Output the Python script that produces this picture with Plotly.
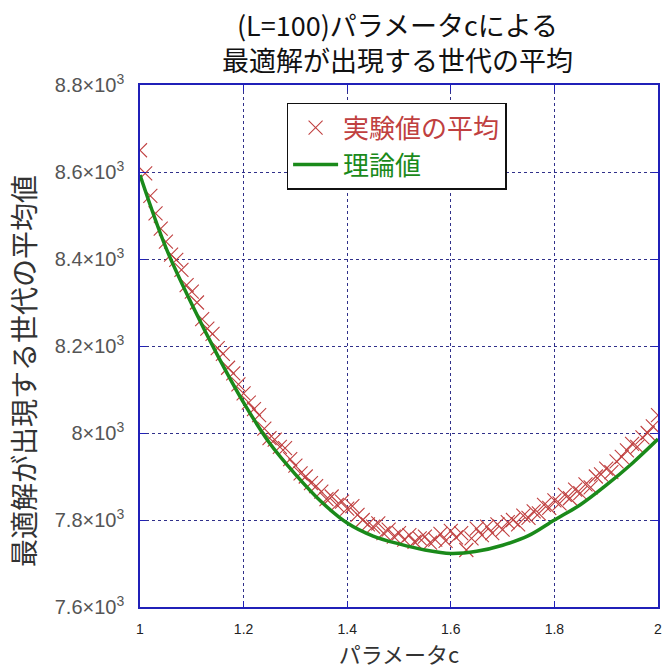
import plotly.graph_objects as go

# Parameter c values for the averaged experiments (step 0.01)
c_exp = [round(1 + i * 0.01, 2) for i in range(101)]
# Average generation at which the optimum appeared
gen_exp = [
    8650, 8597, 8545, 8505, 8470, 8440, 8410, 8398, 8375, 8340,
    8325, 8300, 8262, 8240, 8228, 8195, 8182, 8150, 8137, 8112,
    8091, 8070, 8055, 8041, 8010, 7988, 7985, 7968, 7965, 7940,
    7925, 7907, 7900, 7885, 7878, 7865, 7848, 7854, 7835, 7842,
    7826, 7832, 7812, 7800, 7790, 7785, 7792, 7770, 7778, 7762,
    7770, 7755, 7765, 7750, 7758, 7762, 7748, 7755, 7768, 7752,
    7775, 7760, 7770, 7731, 7758, 7780, 7765, 7785, 7770, 7790,
    7778, 7795, 7800, 7790, 7810, 7805, 7820, 7815, 7835, 7828,
    7845, 7838, 7858, 7850, 7870, 7862, 7882, 7875, 7900, 7905,
    7918, 7910, 7935, 7945, 7960, 7975, 7968, 7990, 8000, 8015,
    8041,
]

# Theoretical curve
c_theory = [1.00, 1.05, 1.10, 1.15, 1.20, 1.25, 1.30, 1.35, 1.40, 1.45, 1.50,
            1.55, 1.60, 1.65, 1.70, 1.75, 1.80, 1.85, 1.90, 1.95, 2.00]
gen_theory = [8593, 8426, 8296, 8178, 8070, 7977, 7905, 7842, 7793, 7763, 7745,
              7731, 7723, 7728, 7742, 7764, 7800, 7835, 7880, 7930, 7986]

# Axis ticks
x_ticks = [1, 1.2, 1.4, 1.6, 1.8, 2]
x_ticktext = ["1", "1.2", "1.4", "1.6", "1.8", "2"]
y_ticks = [7600, 7800, 8000, 8200, 8400, 8600, 8800]
y_ticktext = ["7.6×10<sup>3</sup>", "7.8×10<sup>3</sup>", "8×10<sup>3</sup>",
              "8.2×10<sup>3</sup>", "8.4×10<sup>3</sup>", "8.6×10<sup>3</sup>",
              "8.8×10<sup>3</sup>"]

title_text = "(L=100)パラメータcによる<br>最適解が出現する世代の平均"
y_title = "最適解が出現する世代の平均値"

RED = "#c04040"
GREEN = "#1a8a1a"
BLUE = "#2020b8"
GRID = "#30308a"
FONT = "Noto Sans CJK JP"

fig = go.Figure()
fig.add_trace(go.Scatter(
    x=c_exp, y=gen_exp, mode="markers",
    name=f"<span style='color:{RED}'>実験値の平均</span>",
    marker=dict(symbol="x-thin", size=14, color=RED,
                line=dict(color=RED, width=1.1)),
))
fig.add_trace(go.Scatter(
    x=c_theory, y=gen_theory, mode="lines",
    name=f"<span style='color:{GREEN}'>理論値</span>",
    line=dict(color=GREEN, width=3.5, shape="spline"),
))

# two-line title above the plot frame
fig.add_annotation(
    text=title_text, xref="paper", yref="paper", x=0.498, y=1.082,
    xanchor="center", yanchor="middle", showarrow=False,
    font=dict(size=27, color="#111", family=FONT),
)
# vertical axis title
fig.add_annotation(
    text=y_title, xref="paper", yref="paper", x=-0.226, y=0.452,
    xanchor="center", yanchor="middle", textangle=-90, showarrow=False,
    font=dict(size=28, color="#333", family=FONT),
)

fig.update_layout(
    width=668, height=671,
    margin=dict(l=140, r=6, t=85, b=64),
    paper_bgcolor="white", plot_bgcolor="white",
    font=dict(family=FONT, color="#222"),
    legend=dict(
        x=0.283, y=0.966, xanchor="left", yanchor="top",
        bgcolor="white", bordercolor="#111", borderwidth=1.5,
        font=dict(size=26, family=FONT),
        itemwidth=45, tracegroupgap=0,
    ),
    showlegend=True,
)

fig.update_xaxes(
    range=[1, 2], tickvals=x_ticks, ticktext=x_ticktext,
    showline=True, linecolor=BLUE, linewidth=1.5, mirror="ticks",
    ticks="inside", tickcolor=BLUE, ticklen=6,
    showgrid=True, gridcolor=GRID, gridwidth=1, griddash="dot",
    zeroline=False, ticklabelstandoff=8,
    tickfont=dict(size=14, color="#222", family="Liberation Sans Narrow, Liberation Sans"),
    title=dict(text="パラメータc", font=dict(size=22, color="#333", family=FONT),
               standoff=4),
)
fig.update_yaxes(
    range=[7600, 8800], tickvals=y_ticks, ticktext=y_ticktext,
    showline=True, linecolor=BLUE, linewidth=1.5, mirror="ticks",
    ticks="inside", tickcolor=BLUE, ticklen=6,
    showgrid=True, gridcolor=GRID, gridwidth=1, griddash="dot",
    zeroline=False, ticklabelstandoff=10,
    tickfont=dict(size=20, color="#555", family="Liberation Sans"),
)

fig.write_html("out.html")
